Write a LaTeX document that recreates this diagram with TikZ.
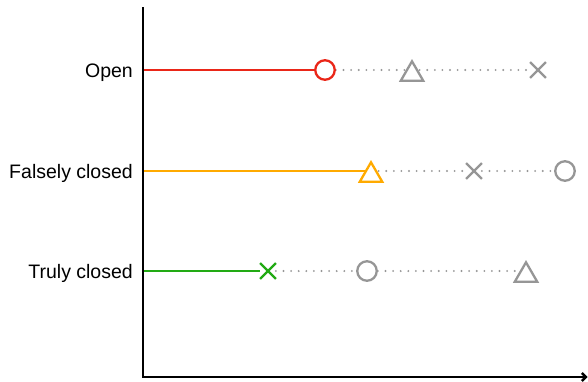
\documentclass[tikz,border=0pt]{standalone}
\usepackage{fontspec}
\setmainfont{Liberation Sans}
\usetikzlibrary{shapes.geometric,shapes.misc,arrows.meta,backgrounds}
\definecolor{cred}{RGB}{234,38,24}
\definecolor{corange}{RGB}{255,170,0}
\definecolor{cgreen}{RGB}{34,170,20}
\definecolor{cgray}{RGB}{150,150,150}
\tikzset{
  axis/.style={line width=2.4pt, black},
  lbl/.style={anchor=base east, inner sep=0pt, font=\fontsize{19.5}{23}\selectfont},
  mk/.style={line width=2.3pt, fill=white, inner sep=0pt},
  circmk/.style={mk, circle, minimum size=19.5pt},
  trimk/.style={mk, regular polygon, regular polygon sides=3, minimum size=26pt},
  crossmk/.style={mk, fill=none, cross out, draw, minimum size=13.5pt},
  solidln/.style={line width=2.2pt},
  dotln/.style={cgray, line width=2.1pt, line cap=round, dash pattern=on 0pt off 7.6pt},
}
\begin{document}
\begin{tikzpicture}[x=1pt,y=-1pt]
\useasboundingbox (0,0) rectangle (588,381);
% axes
\coordinate (ytop) at (143,7);
\coordinate (orig) at (143,377);
\coordinate (xend) at (587.5,377);
\draw[axis, -{Straight Barb[length=4pt,width=8pt]}] (ytop) -- (orig) -- (xend);
% row anchors on the axis
\coordinate (a1) at (143,70);
\coordinate (a2) at (143,171);
\coordinate (a3) at (143,271);
% labels
\node[lbl] (l1) at (133,77.6) {Open};
\node[lbl] (l2) at (133,178.6) {Falsely closed};
\node[lbl] (l3) at (133,278.6) {Truly closed};
% markers row 1
\node[circmk, draw=cred] (o1) at (325,70) {};
\node[trimk, draw=cgray] (t1) at (412,74.3) {};
\node[crossmk, draw=cgray] (x1) at (538,70) {};
% markers row 2
\node[trimk, draw=corange] (t2) at (371,175.3) {};
\node[crossmk, draw=cgray] (x2) at (474,171) {};
\node[circmk, draw=cgray] (o2) at (565,171) {};
% markers row 3
\node[crossmk, draw=cgreen] (x3) at (268,271) {};
\node[circmk, draw=cgray] (o3) at (367,271) {};
\node[trimk, draw=cgray] (t3) at (526,275.3) {};
\begin{scope}[on background layer]
\draw[solidln, cred] (a1) -- (o1);
\draw[dotln] (o1) -- (o1 -| t1);
\draw[dotln] (o1 -| t1) -- (x1);
\draw[solidln, corange] (a2) -- (a2 -| t2);
\draw[dotln] (a2 -| t2) -- (x2);
\draw[dotln] (x2) -- (o2);
\draw[solidln, cgreen] (a3) -- (x3);
\draw[dotln] (x3) -- (o3);
\draw[dotln] (o3) -- (o3 -| t3);
\end{scope}
\end{tikzpicture}
\end{document}
